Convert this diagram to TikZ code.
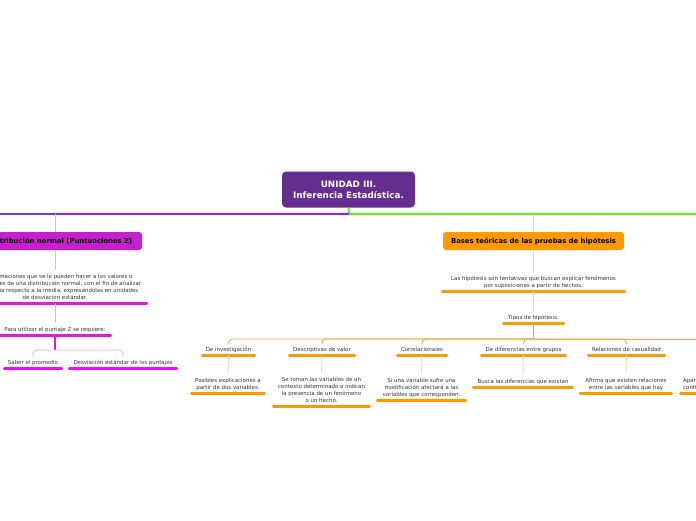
\documentclass[tikz,border=0pt]{standalone}
\usepackage{fontspec}
\setmainfont{DejaVu Sans}
\definecolor{mainpurple}{RGB}{102,45,145}
\definecolor{boxmag}{RGB}{196,32,204}
\definecolor{magline}{RGB}{238,17,238}
\definecolor{pinkthin}{RGB}{242,165,240}
\definecolor{magdark}{RGB}{208,30,208}
\definecolor{orangebox}{RGB}{255,154,0}
\definecolor{oline}{RGB}{255,153,0}
\definecolor{othin}{RGB}{255,214,150}
\definecolor{ohub}{RGB}{247,168,60}
\definecolor{greenline}{RGB}{102,236,26}
\definecolor{purpleline}{RGB}{176,20,230}
\definecolor{blueline}{RGB}{122,46,240}
\definecolor{txtgray}{RGB}{51,51,51}
\begin{document}
\begin{tikzpicture}[x=1pt,y=-1pt,
  small/.style={font=\fontsize{5.45}{7}\selectfont, text=txtgray, align=center,
    text depth=0pt, inner ysep=3.8pt, inner xsep=0pt, anchor=south},
  uw/.style={minimum width=#1},
  mainbox/.style={fill=mainpurple, rounded corners=4pt, minimum width=133pt,
    minimum height=36pt, text=white, align=center, inner sep=0pt,
    font=\fontsize{8.8}{11}\selectfont\bfseries},
  branchbox/.style={rounded corners=3pt, minimum height=18pt, inner sep=0pt,
    text=black, font=\fontsize{6.85}{8}\selectfont\bfseries},
  muline/.style={draw=magline, line width=3pt, line cap=round},
  ouline/.style={draw=oline, line width=3pt, line cap=round},
  pthin/.style={draw=pinkthin, line width=0.8pt},
  othinl/.style={draw=othin, line width=0.8pt},
  hubline/.style={draw=ohub, line width=0.9pt, rounded corners=4pt},
]
\useasboundingbox (0,0) rectangle (696,520);
\clip (0,0) rectangle (696,520);
\fill[white] (0,0) rectangle (696,520);

% coordinates of the main bar
\coordinate (j) at (349,214);
\coordinate (lj) at (55,214);
\coordinate (rj) at (533.5,214);
\coordinate (Lend) at (-5,214);
\coordinate (Rend) at (701,214);

% main node
\node[mainbox] (main) at (348.5,189.5) {UNIDAD III.\\Inferencia Estadística.};

% branch boxes
\node[branchbox, fill=boxmag, minimum width=164pt] (dist) at (60,241) {Distribución normal (Puntuaciones Z)};
\node[branchbox, fill=orangebox, minimum width=181pt] (bases) at (533.5,241) {Bases teóricas de las pruebas de hipótesis};

% main bar
\draw[greenline, line width=2pt] (main.south) -- (j) -- (Rend);
\draw[purpleline, line width=2pt] (j) -- (lj);
\draw[blueline, line width=2pt] (lj) -- (Lend);
\draw[pthin] (lj) -- (lj |- dist.north);
\draw[othinl] (rj) -- (bases.north);

% left branch
\node[small, uw=183pt] (def) at (55,303) {Transformaciones que se le pueden hacer a los valores o\\puntuaciones de una distribución normal, con el fin de analizar\\su distancia respecto a la media, expresándolas en unidades\\de desviación estándar.};
\node[small, uw=111pt] (para) at (55,335) {Para utilizar el puntaje Z se requiere:};
\node[small, uw=57pt] (saber) at (33,368) {Saber el promedio};
\node[small, uw=107pt] (desv) at (123,368) {Desviación estándar de los puntajes};
\coordinate (lhub) at (55,350);

\draw[pthin] (def.north |- dist.south) -- (def.north);
\draw[muline] (def.south west) -- (def.south east);
\draw[pthin] (def.south) -- (para.north);
\draw[muline] (para.south west) -- (para.south east);
\draw[magdark, line width=1.3pt] (para.south) -- (lhub);
\draw[pthin, rounded corners=4pt] (lhub) -| ([yshift=-1pt]saber.north);
\draw[pthin, rounded corners=4pt] (lhub) -| ([yshift=-1pt]desv.north);
\draw[muline] (saber.south west) -- (saber.south east);
\draw[muline] (desv.south west) -- (desv.south east);

% right branch
\node[small, uw=182pt] (hip) at (533.5,291) {Las hipótesis son tentativas que buscan explicar fenómenos\\por suposiciones a partir de hechos.};
\node[small, uw=60pt] (tipos) at (533.5,323) {Tipos de hipótesis:};
\coordinate (hub) at (533.5,339);
\coordinate (hubR) at (701,339);

\draw[othinl] (bases.south) -- (hip.north);
\draw[ouline] (hip.south west) -- (hip.south east);
\draw[othinl] (hip.south) -- (tipos.north);
\draw[ouline] (tipos.south west) -- (tipos.south east);
\draw[ohub, line width=1.2pt] (tipos.south) -- (hub);
\draw[hubline] (hub) -- (hubR);

\node[small, uw=52pt] (c1) at (228.5,355) {De investigación};
\node[small, uw=65pt] (c2) at (322,355) {Descriptivas de valor};
\node[small, uw=49pt] (c3) at (422,355) {Correlacionales};
\node[small, uw=84pt] (c4) at (523.5,355) {De diferencias entre grupos};
\node[small, uw=76pt] (c5) at (626.5,355) {Relaciones de casualidad};

\node[small, uw=73pt] (g1) at (228,393) {Posibles explicaciones a\\partir de dos variables.};
\node[small, uw=96pt] (g2) at (321.5,406) {Se toman las variables de un\\contexto determinado e indican\\la presencia de un fenómeno\\o un hecho.};
\node[small, uw=88pt] (g3) at (421.5,400) {Si una variable sufre una\\modificación afectará a las\\variables que corresponden.};
\node[small, uw=99pt] (g4) at (523,387) {Busca las diferencias que existan};
\node[small, uw=91pt] (g5) at (626,393) {Afirma que existen relaciones\\entre las variables que hay};
\node[small, align=left, anchor=south west, inner xsep=4pt] (g6) at (679,393) {Apar\\confi};
\coordinate (g6e) at (705,393);

\foreach \c in {c1,c2,c3,c4,c5}{
  \draw[hubline] (hub) -| ([yshift=-1pt]\c.north);
  \draw[ouline] (\c.south west) -- (\c.south east);
}
\foreach \c/\g in {c1/g1,c2/g2,c3/g3,c4/g4,c5/g5}{
  \draw[othinl] (\c.south) -- (\g.north);
  \draw[ouline] (\g.south west) -- (\g.south east);
}
\draw[ouline] ([xshift=1.5pt]g6.south west) -- (g6e);
\end{tikzpicture}
\end{document}
